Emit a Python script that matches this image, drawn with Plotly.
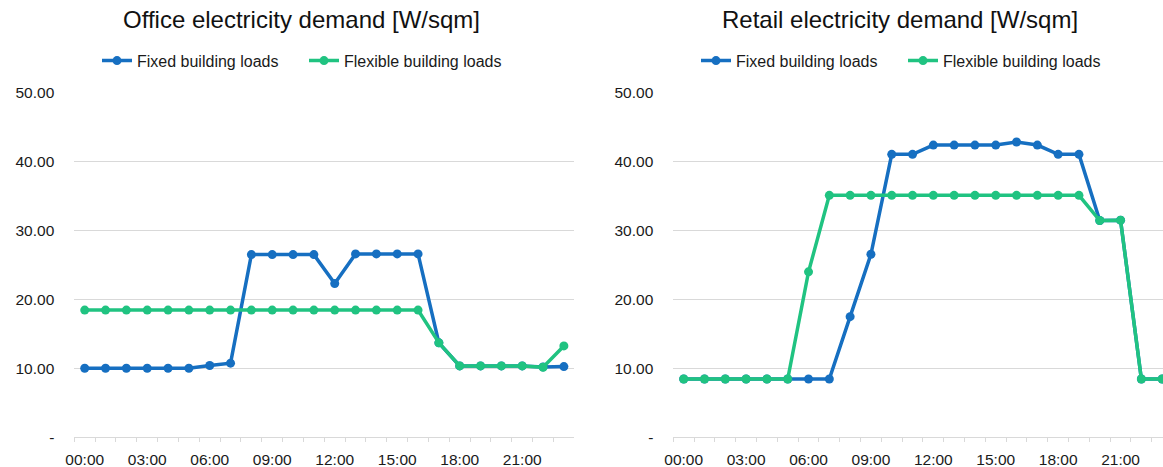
import plotly.graph_objects as go

# Hourly categories and axis labels
hours = ["00:00", "01:00", "02:00", "03:00", "04:00", "05:00", "06:00", "07:00",
         "08:00", "09:00", "10:00", "11:00", "12:00", "13:00", "14:00", "15:00",
         "16:00", "17:00", "18:00", "19:00", "20:00", "21:00", "22:00", "23:00"]
hour_labels = ["00:00", "", "", "03:00", "", "", "06:00", "", "", "09:00", "", "",
               "12:00", "", "", "15:00", "", "", "18:00", "", "", "21:00", "", ""]

y_tick_values = [0, 10, 20, 30, 40, 50]
y_tick_labels = ["-", "10.00", "20.00", "30.00", "40.00", "50.00"]

# Office demand [W/sqm]
office_fixed = [10.0, 10.0, 10.0, 10.0, 10.0, 10.0, 10.4, 10.75,
                26.5, 26.5, 26.5, 26.5, 22.3, 26.6, 26.6, 26.6,
                26.6, 13.7, 10.35, 10.35, 10.35, 10.35, 10.2, 10.25]
office_flexible = [18.45, 18.45, 18.45, 18.45, 18.45, 18.45, 18.45, 18.45,
                   18.45, 18.45, 18.45, 18.45, 18.45, 18.45, 18.45, 18.45,
                   18.45, 13.7, 10.35, 10.35, 10.35, 10.35, 10.15, 13.25]

# Retail demand [W/sqm]
retail_fixed = [8.45, 8.45, 8.45, 8.45, 8.45, 8.45, 8.45, 8.45,
                17.5, 26.55, 41.05, 41.05, 42.4, 42.4, 42.4, 42.4,
                42.85, 42.4, 41.05, 41.05, 31.45, 31.5, 8.45, 8.45]
retail_flexible = [8.45, 8.45, 8.45, 8.45, 8.45, 8.45, 24.0, 35.1,
                   35.1, 35.1, 35.1, 35.1, 35.1, 35.1, 35.1, 35.1,
                   35.1, 35.1, 35.1, 35.1, 31.45, 31.5, 8.45, 8.45]

series_names = ["Fixed building loads", "Flexible building loads"]
titles = ["Office electricity demand [W/sqm]", "Retail electricity demand [W/sqm]"]

BLUE = "#166fc1"
GREEN = "#20c381"
GRID = "#d9d9d9"
FONT = "Liberation Sans, Arial, Helvetica, sans-serif"
W, H = 1163, 467

fig = go.Figure()

panels = [
    ("x", "y", "legend", office_fixed, office_flexible),
    ("x2", "y2", "legend2", retail_fixed, retail_flexible),
]
for xa, ya, lg, fixed, flexible in panels:
    for name, vals, color in zip(series_names, [fixed, flexible], [BLUE, GREEN]):
        fig.add_trace(go.Scatter(
            x=hours, y=vals, name=name, mode="lines+markers",
            line=dict(color=color, width=3.5),
            marker=dict(color=color, size=9),
            xaxis=xa, yaxis=ya, legend=lg,
        ))

y_dom = [(H - 437.2) / H, (H - 92.7) / H]

xaxis_common = dict(
    type="category", categoryorder="array", categoryarray=hours,
    tickmode="array", tickvals=hours, ticktext=hour_labels, tickangle=0,
    tickson="boundaries", ticks="outside", ticklen=4, tickcolor=GRID, tickwidth=1,
    ticklabelstandoff=8,
    showline=True, linecolor=GRID, linewidth=1,
    showgrid=False, zeroline=False, automargin=False,
    tickfont=dict(family=FONT, size=15.5, color="#1a1a1a"),
)
yaxis_common = dict(
    range=[0, 50], domain=y_dom,
    tickmode="array", tickvals=y_tick_values, ticktext=y_tick_labels,
    showgrid=True, gridcolor=GRID, gridwidth=1,
    zeroline=False, showline=False, ticks="",
    ticklabelstandoff=19, automargin=False,
    tickfont=dict(family=FONT, size=15.5, color="#1a1a1a"),
)

legend_common = dict(
    orientation="h", xref="paper", yref="paper",
    xanchor="left", yanchor="middle", y=1 - 60.7 / H,
    font=dict(family=FONT, size=16, color="#1a1a1a"),
    bgcolor="rgba(0,0,0,0)", entrywidth=162, traceorder="normal",
)

fig.update_layout(
    width=W, height=H,
    margin=dict(l=0, r=0, t=0, b=0, autoexpand=False),
    paper_bgcolor="white", plot_bgcolor="white",
    font=dict(family=FONT, color="#1a1a1a"),
    showlegend=True,
    xaxis=dict(xaxis_common, domain=[74.3 / W, 574.3 / W], range=[-0.5, 23.5], anchor="y"),
    yaxis=dict(yaxis_common, anchor="x"),
    xaxis2=dict(xaxis_common, domain=[673.3 / W, 1.0], range=[-0.5, 23.04], anchor="y2"),
    yaxis2=dict(yaxis_common, anchor="x2"),
    legend=dict(legend_common, x=97 / W),
    legend2=dict(legend_common, x=696 / W),
    annotations=[
        dict(text=titles[0], x=301 / W, y=1 - 20 / H, xref="paper", yref="paper",
             xanchor="center", yanchor="middle", showarrow=False,
             font=dict(family=FONT, size=24, color="#111111")),
        dict(text=titles[1], x=900 / W, y=1 - 20 / H, xref="paper", yref="paper",
             xanchor="center", yanchor="middle", showarrow=False,
             font=dict(family=FONT, size=24, color="#111111")),
    ],
)

fig.write_html("out.html", config={"displayModeBar": False})
